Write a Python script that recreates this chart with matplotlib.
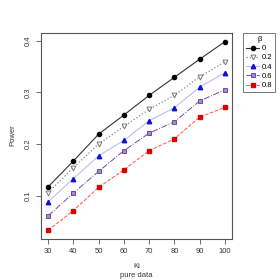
import matplotlib
matplotlib.use("Agg")
import matplotlib.pyplot as plt

plt.rcParams['font.family'] = ['Liberation Sans', 'DejaVu Sans']

ki = [30, 40, 50, 60, 70, 80, 90, 100]
beta_labels = ['0', '0.2', '0.4', '0.6', '0.8']
power_b0 = [0.117, 0.167, 0.219, 0.256, 0.294, 0.329, 0.364, 0.398]
power_b02 = [0.106, 0.154, 0.200, 0.234, 0.267, 0.294, 0.330, 0.359]
power_b04 = [0.088, 0.133, 0.177, 0.207, 0.245, 0.270, 0.310, 0.338]
power_b06 = [0.061, 0.105, 0.147, 0.187, 0.221, 0.243, 0.283, 0.305]
power_b08 = [0.033, 0.071, 0.116, 0.150, 0.187, 0.210, 0.252, 0.271]

fig = plt.figure(figsize=(2.8, 2.8), dpi=100)
ax = fig.add_axes([0.1464, 0.1464, 0.682, 0.736])

# one style per beta: line colour, line style, marker, marker face, marker edge
ax.plot(ki, power_b0, color='#333333', ls='-', lw=0.8, marker='o', ms=3,
        mfc='black', mec='black', label=beta_labels[0])
ax.plot(ki, power_b02, color='#888888', ls=':', lw=0.9, marker='v', ms=3.5,
        mfc='white', mec='#777777', mew=0.7, label=beta_labels[1])
ax.plot(ki, power_b04, color='#b8bcff', ls='-', lw=0.8, marker='^', ms=3.2,
        mfc='#1010d0', mec='#1010d0', label=beta_labels[2])
ax.plot(ki, power_b06, color='#6a4c9c', ls='-.', lw=0.7, marker='s', ms=3.2,
        mfc='#a58ad0', mec='#6a4c9c', mew=0.7, label=beta_labels[3])
ax.plot(ki, power_b08, color='#ff5050', ls='--', lw=0.7, marker='s', ms=2.8,
        mfc='#dd0000', mec='#dd0000', label=beta_labels[4])

ax.set_xlim(27.2, 102.8)
ax.set_ylim(0.0162, 0.4149)
ax.set_xticks(ki)
ax.set_yticks([0.1, 0.2, 0.3, 0.4])
ax.set_yticklabels(['0.1', '0.2', '0.3', '0.4'], rotation=90, va='center')
ax.tick_params(labelsize=5.5, length=3.5, width=0.6, colors='#555555',
               labelcolor='#333333', pad=3)
for s in ax.spines.values():
    s.set_color('#555555')
    s.set_linewidth(0.8)

fig.text(0.046, 0.518, 'Power', rotation=90, fontsize=5.5, color='#333333',
         ha='center', va='center')
fig.text(0.4875, 0.05, 'Ki', fontsize=5.5, color='#333333', ha='center', va='center')
fig.text(0.4875, 0.016, 'pure data', fontsize=5.5, color='#333333',
         ha='center', va='center')

leg = ax.legend(title='β', loc='upper left', bbox_to_anchor=(1.06, 1.0),
                fontsize=5.5, title_fontsize=5.5, frameon=True, fancybox=False,
                handlelength=1.6, handletextpad=0.4, borderpad=0.4,
                labelspacing=0.25, borderaxespad=0)
leg.get_frame().set_edgecolor('#555555')
leg.get_frame().set_linewidth(0.7)

plt.savefig('out.png', dpi=100)
